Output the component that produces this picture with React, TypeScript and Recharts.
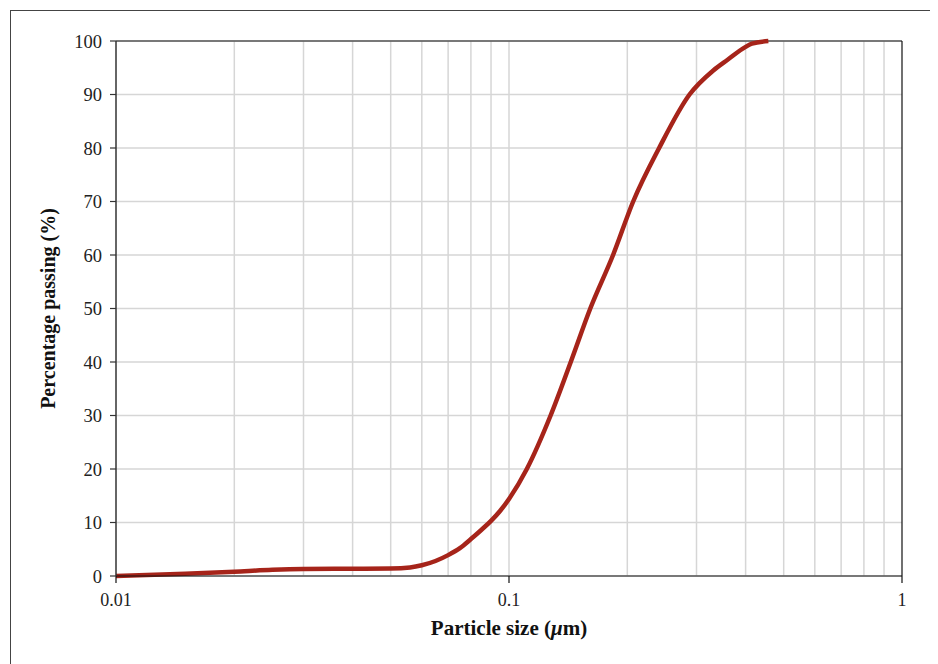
import React from "react";
import {
  LineChart, Line, XAxis, YAxis, CartesianGrid, ReferenceLine,
} from "recharts";

// particle size (µm) and cumulative percentage passing
const sizes = [
  0.01, 0.015, 0.02, 0.025, 0.03, 0.04, 0.05, 0.056, 0.06, 0.065, 0.07, 0.075,
  0.08, 0.085, 0.09, 0.095, 0.1, 0.111, 0.1276, 0.1436, 0.161, 0.184, 0.207,
  0.241, 0.288, 0.331, 0.36, 0.4, 0.415, 0.457,
];
const passing = [
  0, 0.4, 0.8, 1.15, 1.3, 1.35, 1.4, 1.6, 2.0, 2.8, 3.9, 5.2,
  6.9, 8.6, 10.3, 12.2, 14.4, 20, 30, 40, 50, 60, 70,
  80, 90, 94.5, 96.5, 98.9, 99.5, 100,
];

const xTicks = [0.01, 0.1, 1];
const minorX = [0.02, 0.03, 0.04, 0.05, 0.06, 0.07, 0.08, 0.09, 0.1, 0.2, 0.3, 0.4, 0.5, 0.6, 0.7, 0.8, 0.9];
const yTicks = [0, 10, 20, 30, 40, 50, 60, 70, 80, 90, 100];

const data = sizes.map((s, i) => ({ size: s, pct: passing[i] }));

const FONT = "'Liberation Serif', 'DejaVu Serif', serif";
const GRID = "#d6d6d6";

function XLabel({ viewBox }: any) {
  const cx = viewBox.x + viewBox.width / 2;
  return (
    <text x={cx} y={viewBox.y + 59} textAnchor="middle" fontFamily={FONT} fontSize={21} fontWeight="bold" fill="#111">
      Particle size (<tspan fontStyle="italic">μ</tspan>m)
    </text>
  );
}

function YLabel({ viewBox }: any) {
  const cy = viewBox.y + viewBox.height / 2;
  const x = 48;
  return (
    <text x={x} y={cy} transform={`rotate(-90 ${x} ${cy})`} textAnchor="middle" dominantBaseline="central"
      fontFamily={FONT} fontSize={20} fontWeight="bold" fill="#111">
      Percentage passing (%)
    </text>
  );
}

export default function App() {
  return (
    <div style={{ position: "relative", width: 938, height: 664 }}>
      <div style={{
        position: "absolute", left: 2, top: 2, width: 921, height: 700,
        border: "1.5px solid #444",
      }} />
      <div style={{ position: "absolute", left: -8, top: -8 }}>
        <LineChart width={938} height={664} data={data}
          margin={{ top: 41, right: 36, bottom: 48, left: 56 }}>
          <CartesianGrid vertical={false} stroke={GRID} strokeWidth={1.5} />
          {minorX.map((v) => (
            <ReferenceLine key={v} x={v} stroke={GRID} strokeWidth={1.5} />
          ))}
          <ReferenceLine y={100} stroke="#111" strokeWidth={1.2} />
          <ReferenceLine x={1} stroke="#111" strokeWidth={1.2} />
          <XAxis dataKey="size" type="number" scale="log" domain={[0.01, 1]} ticks={xTicks}
            allowDataOverflow height={40}
            tickFormatter={(v) => String(v)}
            tick={{ fontFamily: FONT, fontSize: 18, fill: "#222" }}
            axisLine={{ stroke: "#111", strokeWidth: 1.2 }}
            tickLine={{ stroke: "#111", strokeWidth: 1.2 }} tickSize={7} tickMargin={10}
            label={<XLabel />} />
          <YAxis type="number" domain={[0, 100]} ticks={yTicks} width={60}
            tick={{ fontFamily: FONT, fontSize: 18.5, fill: "#222" }}
            axisLine={{ stroke: "#333", strokeWidth: 1.5 }}
            tickLine={{ stroke: "#333", strokeWidth: 1.2 }} tickSize={6} tickMargin={8}
            label={<YLabel />} />
          <Line type="monotone" dataKey="pct" stroke="#a6241a" strokeWidth={4.5}
            dot={false} isAnimationActive={false} />
        </LineChart>
      </div>
    </div>
  );
}
